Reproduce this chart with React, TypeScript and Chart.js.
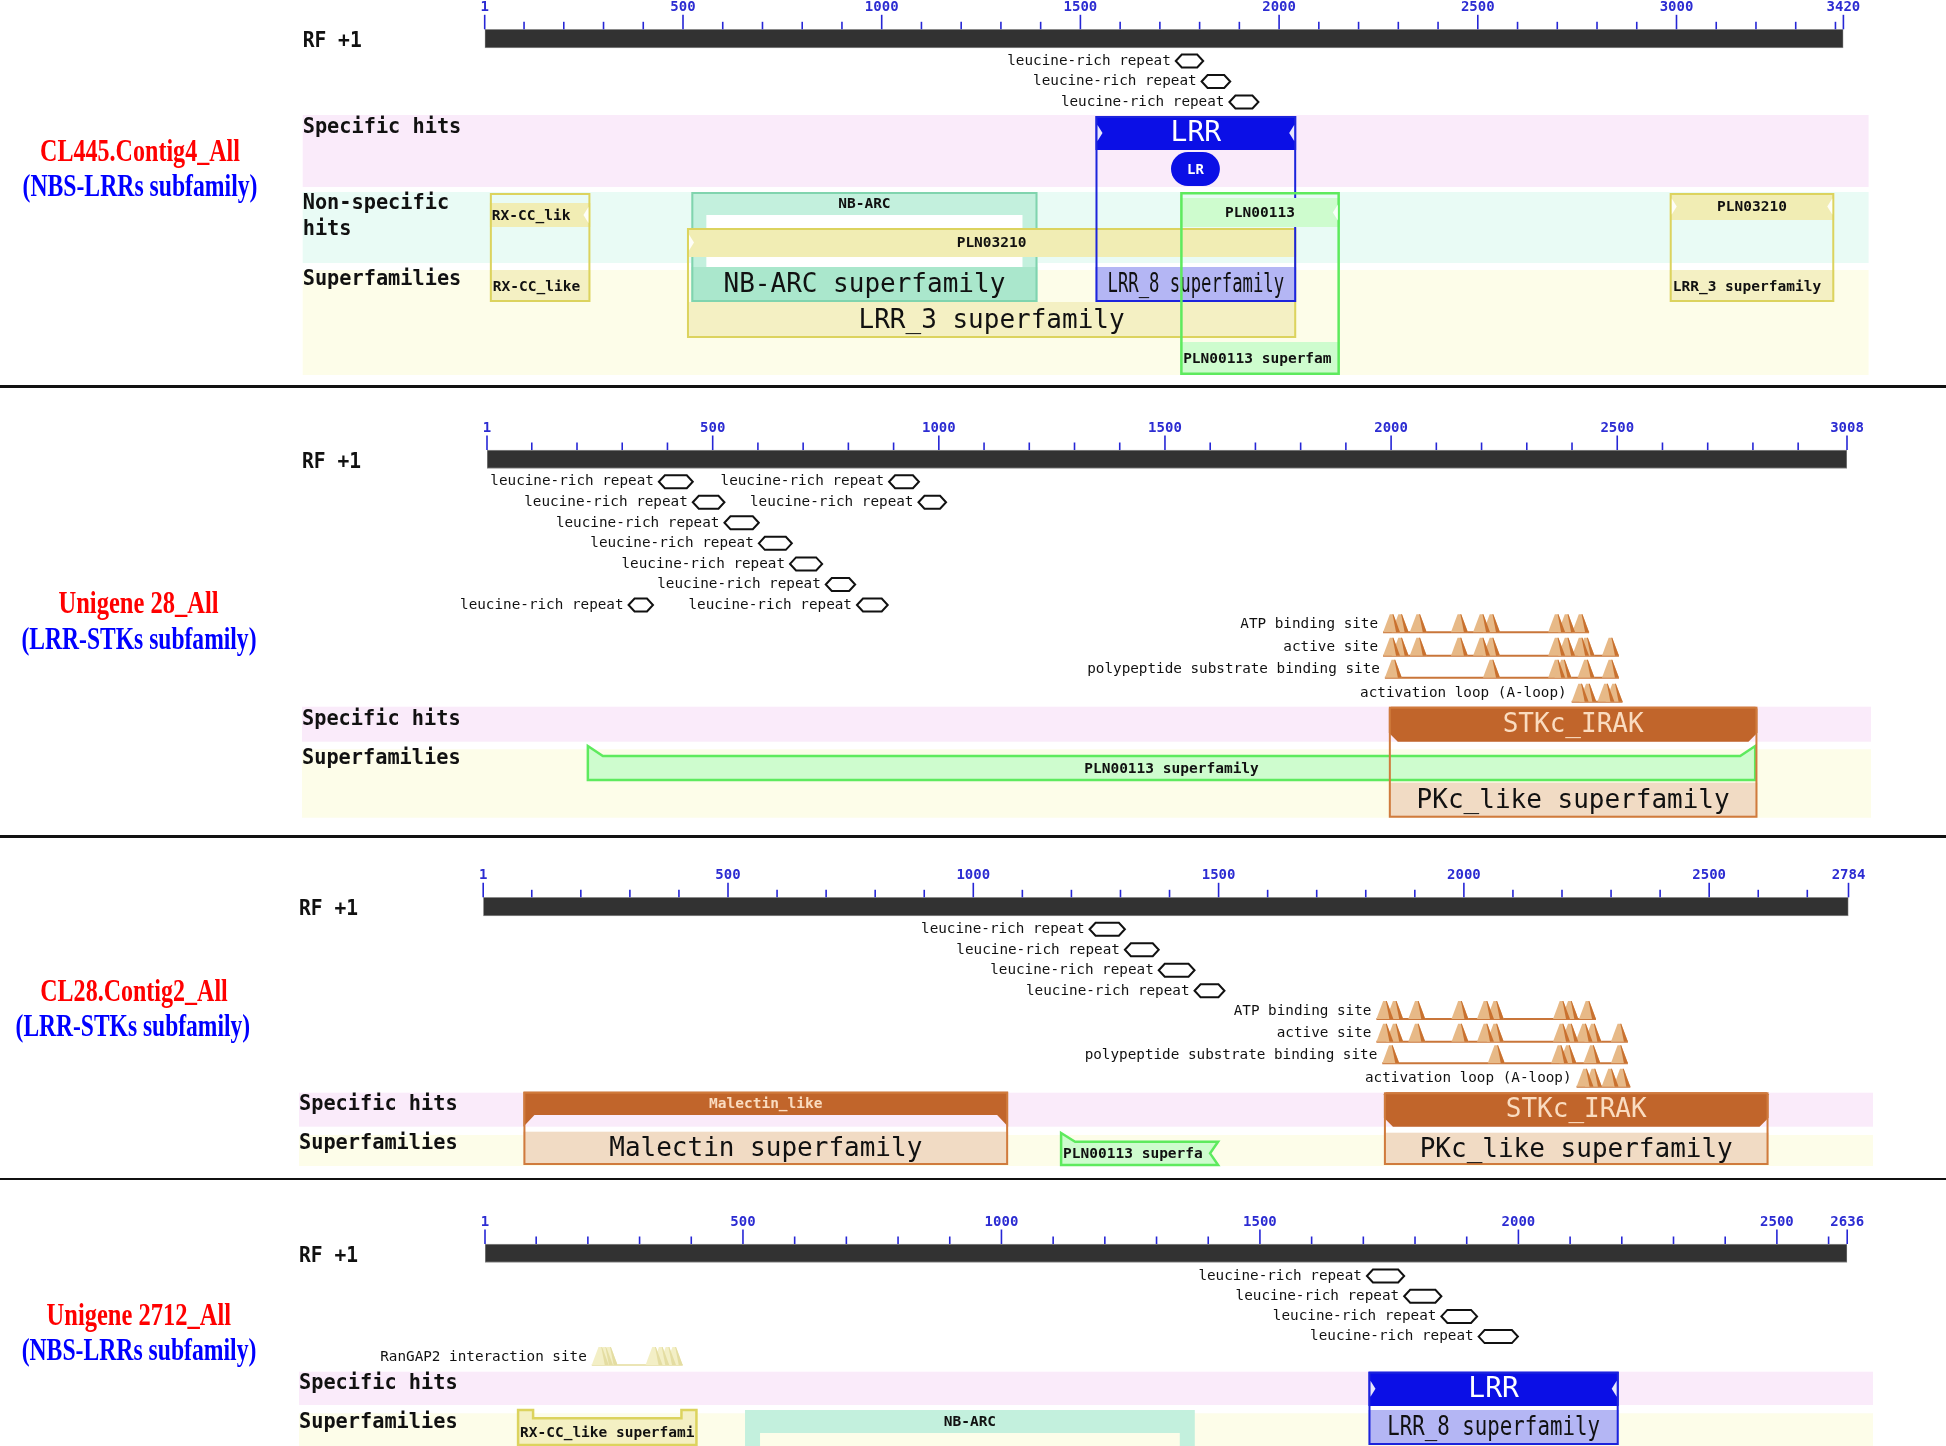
import React, { useEffect, useRef } from "react";
import { Chart, registerables } from "chart.js";

Chart.register(...registerables);

const PAGE_W = 1946;
const PAGE_H = 1446;
const MONO = '"DejaVu Sans Mono", "Liberation Mono", monospace';
const SERIF = '"Liberation Serif", "Times New Roman", serif';

/* ---------------- data ---------------- */
const SEQUENCE_NAMES = ["CL445.Contig4_All", "Unigene 28_All", "CL28.Contig2_All", "Unigene 2712_All"];
const SUBFAMILY_NAMES = ["(NBS-LRRs subfamily)", "(LRR-STKs subfamily)", "(LRR-STKs subfamily)", "(NBS-LRRs subfamily)"];
const SEQUENCE_LENGTHS = [3420, 3008, 2784, 2636];
const READING_FRAME = "RF +1";
const MINOR_TICK_STEP = 100;
const MAJOR_TICK_STEP = 500;
const TRACK_LABELS_NONSPEC = ["Specific hits", "Non-specific", "hits", "Superfamilies"];
const TRACK_LABELS = ["Specific hits", "Superfamilies"];

const REPEAT_LABEL = "leucine-rich repeat";
// leucine-rich repeat features: [start, end, row]
const REPEATS_1 = [[1740, 1809, 0], [1805, 1877, 1], [1875, 1948, 2]];
const REPEATS_2 = [
  [381, 456, 0], [890, 956, 0], [456, 526, 1], [955, 1016, 1], [526, 602, 2],
  [602, 675, 3], [671, 742, 4], [750, 815, 5], [314, 368, 6], [819, 887, 6],
];
const REPEATS_3 = [[1237, 1309, 0], [1309, 1378, 1], [1378, 1451, 2], [1451, 1512, 3]];
const REPEATS_4 = [[1707, 1779, 0], [1779, 1851, 1], [1851, 1920, 2], [1923, 1999, 3]];
const REPEATS = [REPEATS_1, REPEATS_2, REPEATS_3, REPEATS_4];

// conserved site positions
const KINASE_SITE_NAMES = ["ATP binding site", "active site", "polypeptide substrate binding site", "activation loop (A-loop)"];
const ATP_SITES_2 = [2001, 2020, 2060, 2151, 2200, 2222, 2366, 2388, 2419];
const ACTIVE_SITES_2 = [2001, 2020, 2060, 2151, 2200, 2222, 2366, 2388, 2419, 2431, 2485];
const SUBSTRATE_SITES_2 = [2005, 2222, 2366, 2380, 2431, 2485];
const ALOOP_SITES_2 = [2418, 2435, 2475, 2493];
const ATP_SITES_3 = [1839, 1859, 1904, 1992, 2044, 2064, 2199, 2216, 2252];
const ACTIVE_SITES_3 = [1839, 1859, 1904, 1992, 2044, 2064, 2199, 2216, 2245, 2263, 2317];
const SUBSTRATE_SITES_3 = [1851, 2066, 2195, 2212, 2261, 2317];
const ALOOP_SITES_3 = [2247, 2264, 2298, 2322];
const RANGAP_SITE_NAME = "RanGAP2 interaction site";
const RANGAP_SITES_4 = [224, 232, 241, 328, 341, 354, 367];

// domain hits
const HITS_1 = [
  { id: "rxcc", name: "RX-CC_lik", superfamily: "RX-CC_like", start: 14, end: 267 },
  { id: "nbarc", name: "NB-ARC", superfamily: "NB-ARC superfamily", start: 521, end: 1392 },
  { id: "pln03210", name: "PLN03210", superfamily: "LRR_3 superfamily", start: 510, end: 2043 },
  { id: "lrr", name: "LRR", superfamily: "LRR_8 superfamily", start: 1538, end: 2043 },
  { id: "lr", name: "LR", superfamily: "", start: 1728, end: 1851 },
  { id: "pln00113", name: "PLN00113", superfamily: "PLN00113 superfam", start: 1751, end: 2153 },
  { id: "pln03210b", name: "PLN03210", superfamily: "LRR_3 superfamily", start: 2983, end: 3397 },
];
const HITS_2 = [
  { id: "pln00113", name: "", superfamily: "PLN00113 superfamily", start: 224, end: 2805 },
  { id: "stkc", name: "STKc_IRAK", superfamily: "PKc_like superfamily", start: 1995, end: 2810 },
];
const HITS_3 = [
  { id: "malectin", name: "Malectin_like", superfamily: "Malectin superfamily", start: 83, end: 1071 },
  { id: "pln00113", name: "", superfamily: "PLN00113 superfa", start: 1179, end: 1499 },
  { id: "stkc", name: "STKc_IRAK", superfamily: "PKc_like superfamily", start: 1837, end: 2621 },
];
const HITS_4 = [
  { id: "rxcc", name: "", superfamily: "RX-CC_like superfami", start: 65, end: 410 },
  { id: "nbarc", name: "NB-ARC", superfamily: "", start: 504, end: 1374 },
  { id: "lrr", name: "LRR", superfamily: "LRR_8 superfamily", start: 1710, end: 2194 },
];
const HITS = [HITS_1, HITS_2, HITS_3, HITS_4];

/* ---------------- styles & layout ---------------- */
const SCHEMES: any = {
  blue: { border: "#1c24dc", header: "#0b0fe6", headerText: "#ffffff", footer: "#b4b6f4", footerText: "#111111" },
  teal: { border: "#80d4ae", header: "#c3f0dd", headerText: "#111111", footer: "#aae7cc", footerText: "#111111" },
  yellow: { border: "#dcd35e", header: "#f1edb4", headerText: "#111111", footer: "#f4f0c3", footerText: "#111111" },
  green: { border: "#5eea5e", header: "#cefcce", headerText: "#111111", footer: "#cefcce", footerText: "#111111" },
  orange: { border: "#d07b3d", header: "#c1652b", headerText: "#fadcc0", footer: "#f1dbc4", footerText: "#111111" },
};
const BAND_COLORS: any = { spec: "#faebfa", nonspec: "#e9fbf5", super: "#fdfde9" };
const SITE_STYLES: any = {
  kinase: { fill: "#e7b987", shade: "#c9712f", base: "#c9763a" },
  rangap: { fill: "#f3efc6", shade: "#e4dda2", base: "#ebe5b5" },
};
const TICK_COLOR = "#2626d6";
const RULER_T = 18.5;

const F_SMALL = `bold 14.5px ${MONO}`;
const F_BIG = `26px ${MONO}`;
const F_LRR = `28px ${MONO}`;
const F_ROW = `bold 21px ${MONO}`;
const F_FEATURE = `14.3px ${MONO}`;
const F_TICK = `bold 14px ${MONO}`;
const F_TITLE = `bold 31px ${SERIF}`;

const LAYOUTS: any[] = [
  {
    top: 0, height: 386, left: 484.7, right: 1843.4, labelX: 302.7, bandRight: 1868.6,
    rulerTop: 29.3, rfY: 42, repeatY0: 61, repeatDY: 20.5,
    bands: [["spec", 115, 187], ["nonspec", 192, 263], ["super", 270, 375]],
    rowLabels: TRACK_LABELS_NONSPEC, rowY: [128, 204, 230, 280],
    title: [140, 153, 200], sub: [140, 188.3, 235],
    sites: [],
    geom: {
      rxcc: { top: 193, bottom: 302, header: [203, 227], footer: [270, 302], scheme: "yellow", hFont: "small", hAlign: "left", fFont: "small", fAlign: "left", notch: "right" },
      nbarc: { top: 192, bottom: 302, header: [192, 215], footer: [267, 302], legs: 15, interior: "#ffffff", scheme: "teal", hFont: "small", fFont: "big" },
      pln03210: { top: 228, bottom: 338, header: [228, 257], footer: [302, 338], scheme: "yellow", hFont: "small", fFont: "big", notch: "left" },
      lrr: { top: 116, bottom: 302, header: [116, 150], footer: [267, 302], scheme: "blue", hFont: "lrr", fFont: "big", fFit: 0.88, notch: "both" },
      lr: { shape: "pill", top: 152, bottom: 186, scheme: "blue" },
      pln00113: { top: 192, bottom: 375, header: [198, 227], footer: [342, 375], scheme: "green", hFont: "small", fFont: "small", fAlign: "left", notch: "right", lw: 2.5 },
      pln03210b: { top: 193, bottom: 302, header: [193, 220], footer: [270, 302], scheme: "yellow", hFont: "small", fFont: "small", fAlign: "left", notch: "both" },
    },
  },
  {
    top: 386, height: 450, left: 487, right: 1847, labelX: 302, bandRight: 1871,
    rulerTop: 64, rfY: 76.7, repeatY0: 95.7, repeatDY: 20.55,
    bands: [["spec", 320.7, 355.7], ["super", 363.3, 431.7]],
    rowLabels: TRACK_LABELS, rowY: [333.3, 372.3],
    title: [138.5, 219, 160], sub: [139, 254.7, 235],
    sites: [
      { list: ATP_SITES_2, name: KINASE_SITE_NAMES[0], base: 246.3, style: "kinase" },
      { list: ACTIVE_SITES_2, name: KINASE_SITE_NAMES[1], base: 269.7, style: "kinase" },
      { list: SUBSTRATE_SITES_2, name: KINASE_SITE_NAMES[2], base: 291.7, style: "kinase" },
      { list: ALOOP_SITES_2, name: KINASE_SITE_NAMES[3], base: 315.7, style: "kinase" },
    ],
    geom: {
      pln00113: { shape: "tray", top: 360, bodyTop: 370, bottom: 394, slant: 15, scheme: "green" },
      stkc: { top: 320.7, bottom: 431.7, header: [320.7, 355.7], footer: [396.7, 431.7], scheme: "orange", hFont: "big", fFont: "big", bevel: true },
    },
  },
  {
    top: 836, height: 343, left: 483.2, right: 1848.5, labelX: 299, bandRight: 1873,
    rulerTop: 61.3, rfY: 74, repeatY0: 93.3, repeatDY: 20.5,
    bands: [["spec", 256.7, 290.7], ["super", 299, 330]],
    rowLabels: TRACK_LABELS, rowY: [269, 308],
    title: [134, 157.3, 187.5], sub: [132.8, 192.3, 234.5],
    sites: [
      { list: ATP_SITES_3, name: KINASE_SITE_NAMES[0], base: 183, style: "kinase" },
      { list: ACTIVE_SITES_3, name: KINASE_SITE_NAMES[1], base: 205.7, style: "kinase" },
      { list: SUBSTRATE_SITES_3, name: KINASE_SITE_NAMES[2], base: 227.3, style: "kinase" },
      { list: ALOOP_SITES_3, name: KINASE_SITE_NAMES[3], base: 250.7, style: "kinase" },
    ],
    geom: {
      malectin: { top: 255.7, bottom: 329, header: [255.7, 279], footer: [295.7, 329], wedges: [279, 290.7], scheme: "orange", hFont: "small", fFont: "big" },
      pln00113: { shape: "flag", top: 297, bodyTop: 305.7, bottom: 329, slant: 14, scheme: "green" },
      stkc: { top: 256.3, bottom: 329, header: [256.3, 290.7], footer: [296.7, 329], scheme: "orange", hFont: "big", fFont: "big", bevel: true },
    },
  },
  {
    top: 1179, height: 267, left: 485, right: 1847.2, labelX: 299, bandRight: 1873,
    rulerTop: 65, rfY: 77.7, repeatY0: 97, repeatDY: 20.2,
    bands: [["spec", 192.7, 226], ["super", 234.3, 267]],
    rowLabels: TRACK_LABELS, rowY: [205, 243.7],
    title: [138.8, 137.7, 184.4], sub: [139, 172.7, 234.7],
    sites: [{ list: RANGAP_SITES_4, name: RANGAP_SITE_NAME, base: 186, style: "rangap" }],
    geom: {
      rxcc: { shape: "u", top: 231, innerTop: 239.3, bottom: 266, notchW: 15, scheme: "yellow" },
      nbarc: { top: 231, bottom: 267, header: [231, 254], legs: 15, scheme: "teal", hFont: "small", noBorder: true },
      lrr: { top: 192.7, bottom: 266, header: [192.7, 227], footer: [231, 266], scheme: "blue", hFont: "lrr", fFont: "big", fFit: 0.85, notch: "both" },
    },
  },
];

/* ---------------- drawing helpers ---------------- */
function txt(ctx: any, s: string, x: number, y: number, font: string, color: string, align: any = "center", maxW?: number) {
  if (!s) return;
  ctx.font = font;
  ctx.fillStyle = color;
  ctx.textAlign = align;
  ctx.textBaseline = "middle";
  if (maxW) ctx.fillText(s, x, y, maxW);
  else ctx.fillText(s, x, y);
}

function poly(ctx: any, pts: number[][], fill?: string, stroke?: string, lw = 2) {
  ctx.beginPath();
  pts.forEach((p, i) => (i ? ctx.lineTo(p[0], p[1]) : ctx.moveTo(p[0], p[1])));
  ctx.closePath();
  if (fill) { ctx.fillStyle = fill; ctx.fill(); }
  if (stroke) { ctx.strokeStyle = stroke; ctx.lineWidth = lw; ctx.stroke(); }
}

function fontFor(k: string) {
  return k === "big" ? F_BIG : k === "lrr" ? F_LRR : F_SMALL;
}

function drawHit(ctx: any, X: any, Y: any, hit: any, g: any) {
  const S = SCHEMES[g.scheme];
  const x0 = X(hit.start), x1 = X(hit.end), w = x1 - x0, cx = (x0 + x1) / 2;
  const shape = g.shape || "frame";
  if (shape === "pill") {
    const t = Y(g.top), b = Y(g.bottom);
    ctx.beginPath();
    ctx.roundRect(x0, t, w, b - t, (b - t) / 2);
    ctx.fillStyle = S.header;
    ctx.fill();
    txt(ctx, hit.name, cx, (t + b) / 2 + 1, `bold 14px ${MONO}`, "#ffffff");
    return;
  }
  if (shape === "tray") {
    const t = Y(g.top), bt = Y(g.bodyTop), b = Y(g.bottom);
    poly(ctx, [[x0, t], [x0 + g.slant, bt], [x1 - g.slant, bt], [x1, t], [x1, b], [x0, b]], S.footer, S.border, 2.5);
    txt(ctx, hit.superfamily, cx, (bt + b) / 2 + 1, F_SMALL, S.footerText);
    return;
  }
  if (shape === "flag") {
    const t = Y(g.top), bt = Y(g.bodyTop), b = Y(g.bottom);
    poly(ctx, [[x0, t], [x0 + g.slant, bt], [x1, bt], [x1 - 8, (bt + b) / 2], [x1, b], [x0, b]], S.footer, S.border, 2.5);
    txt(ctx, hit.superfamily, x0 + 2, (bt + b) / 2 + 1, F_SMALL, S.footerText, "left", x1 - x0 - 8);
    return;
  }
  if (shape === "u") {
    const t = Y(g.top), it = Y(g.innerTop), b = Y(g.bottom), n = g.notchW;
    poly(ctx, [[x0, t], [x0 + n, t], [x0 + n, it], [x1 - n, it], [x1 - n, t], [x1, t], [x1, b], [x0, b]], S.footer, S.border, 2.5);
    txt(ctx, hit.superfamily, x0 + 2, (it + b) / 2 + 2, F_SMALL, S.footerText, "left", w - 4);
    return;
  }
  // frame
  const t = Y(g.top), b = Y(g.bottom);
  if (g.interior) { ctx.fillStyle = g.interior; ctx.fillRect(x0, t, w, b - t); }
  let ht = 0, hb = 0;
  if (g.header) {
    ht = Y(g.header[0]); hb = Y(g.header[1]);
    if (g.bevel) {
      poly(ctx, [[x0 + 2, ht], [x1 - 2, ht], [x1, ht + 2], [x1, hb - 9], [x1 - 9, hb], [x0 + 9, hb], [x0, hb - 9], [x0, ht + 2]], S.header);
    } else {
      ctx.fillStyle = S.header;
      ctx.fillRect(x0, ht, w, hb - ht);
    }
  }
  let ft = b, fb = b;
  if (g.footer) { ft = Y(g.footer[0]); fb = Y(g.footer[1]); }
  if (g.legs && g.header) {
    ctx.fillStyle = S.header;
    ctx.fillRect(x0, hb, g.legs, ft - hb);
    ctx.fillRect(x1 - g.legs, hb, g.legs, ft - hb);
  }
  if (g.footer) { ctx.fillStyle = S.footer; ctx.fillRect(x0, ft, w, fb - ft); }
  if (g.wedges) {
    const w0 = Y(g.wedges[0]), w1 = Y(g.wedges[1]);
    poly(ctx, [[x0, w0], [x0 + 11, w0], [x0, w1]], S.header);
    poly(ctx, [[x1, w0], [x1 - 11, w0], [x1, w1]], S.header);
  }
  if (!g.noBorder) {
    const lw = g.lw || 2;
    ctx.strokeStyle = S.border;
    ctx.lineWidth = lw;
    ctx.strokeRect(x0 + lw / 2, t + lw / 2, w - lw, b - t - lw);
  }
  if (g.header && g.notch) {
    const m = (ht + hb) / 2, d = Math.min(8, (hb - ht) / 2 - 3);
    const nc = "rgba(255,255,255,0.9)";
    if (g.notch === "left" || g.notch === "both") poly(ctx, [[x0 + 2, m - d], [x0 + 7, m], [x0 + 2, m + d]], nc);
    if (g.notch === "right" || g.notch === "both") poly(ctx, [[x1 - 2, m - d], [x1 - 7, m], [x1 - 2, m + d]], nc);
  }
  if (g.header && hit.name) {
    const left = g.hAlign === "left";
    txt(ctx, hit.name, left ? x0 + 2 : cx, (ht + hb) / 2 + 1, fontFor(g.hFont), S.headerText, left ? "left" : "center", w - 6);
  }
  if (g.footer && hit.superfamily) {
    const left = g.fAlign === "left";
    const mw = g.fFit ? w * g.fFit : w - 6;
    txt(ctx, hit.superfamily, left ? x0 + 3 : cx, (ft + fb) / 2 + 1, fontFor(g.fFont), S.footerText, left ? "left" : "center", mw);
  }
}

function drawSites(ctx: any, X: any, Y: any, s: any) {
  const st = SITE_STYLES[s.style];
  const b = Y(s.base), h = 18, hw = 8.5, tw = 1.8;
  const px = s.list.map((v: number) => X(v));
  const minX = Math.min(...px) - hw, maxX = Math.max(...px) + hw;
  ctx.strokeStyle = st.base;
  ctx.lineWidth = 2;
  ctx.beginPath();
  ctx.moveTo(minX, b);
  ctx.lineTo(maxX, b);
  ctx.stroke();
  px.forEach((p: number) => poly(ctx, [[p - hw, b], [p - tw, b - h], [p + tw, b - h], [p + hw, b]], st.fill));
  px.forEach((p: number) => poly(ctx, [[p + tw - 0.8, b - h], [p + tw, b - h], [p + hw, b], [p + hw - 4, b]], st.shade));
  txt(ctx, s.name, minX - 5, b - 8, F_FEATURE, "#111111", "right");
}

function drawRepeat(ctx: any, X: any, y: number, start: number, end: number) {
  const x0 = X(start), x1 = X(end), hh = 6.5, head = Math.min(6, (x1 - x0) / 3);
  poly(ctx, [[x0, y], [x0 + head, y - hh], [x1 - head, y - hh], [x1, y], [x1 - head, y + hh], [x0 + head, y + hh]], "#ffffff", "#111111", 2);
  txt(ctx, REPEAT_LABEL, x0 - 5, y, F_FEATURE, "#111111", "right");
}

function drawBands(chart: any, p: number) {
  const L = LAYOUTS[p];
  const ctx = chart.ctx;
  const Y = (v: number) => chart.scales.y.getPixelForValue(v);
  ctx.save();
  L.bands.forEach((bd: any) => {
    ctx.fillStyle = BAND_COLORS[bd[0]];
    ctx.fillRect(L.labelX, Y(bd[1]), L.bandRight - L.labelX, Y(bd[2]) - Y(bd[1]));
  });
  ctx.restore();
}

function drawPanel(chart: any, p: number) {
  const L = LAYOUTS[p];
  const ctx = chart.ctx;
  const X = (v: number) => chart.scales.x.getPixelForValue(v);
  const Y = (v: number) => chart.scales.y.getPixelForValue(v);
  const len = SEQUENCE_LENGTHS[p];
  ctx.save();

  // ruler ticks and labels
  const rt = Y(L.rulerTop);
  const endPx = X(len);
  const ticks: any[] = [{ v: 1, major: true, label: true }];
  for (let v = MINOR_TICK_STEP; v < len; v += MINOR_TICK_STEP) {
    if (endPx - X(v) < 5) continue;
    const major = v % MAJOR_TICK_STEP === 0;
    ticks.push({ v, major, label: major && endPx - X(v) > 36 });
  }
  ticks.push({ v: len, major: true, label: true });
  ctx.strokeStyle = TICK_COLOR;
  ctx.lineWidth = 1.6;
  ticks.forEach((t) => {
    const x = X(t.v);
    ctx.beginPath();
    ctx.moveTo(x, rt - (t.major ? 14.5 : 7.5));
    ctx.lineTo(x, rt);
    ctx.stroke();
    if (t.label) txt(ctx, String(t.v), x, rt - 22, F_TICK, "#2c2cd2");
  });

  // left titles
  txt(ctx, SEQUENCE_NAMES[p], L.title[0], Y(L.title[1]), F_TITLE, "#ff0000", "center", L.title[2]);
  txt(ctx, SUBFAMILY_NAMES[p], L.sub[0], Y(L.sub[1]), F_TITLE, "#0000ff", "center", L.sub[2]);

  // row labels
  txt(ctx, READING_FRAME, L.labelX, Y(L.rfY), F_ROW, "#111111", "left", 59);
  L.rowLabels.forEach((s: string, i: number) => txt(ctx, s, L.labelX, Y(L.rowY[i]), F_ROW, "#111111", "left", s.length * 12.2));

  // repeats
  REPEATS[p].forEach((r) => drawRepeat(ctx, X, Y(L.repeatY0 + r[2] * L.repeatDY), r[0], r[1]));

  // sites
  L.sites.forEach((s: any) => drawSites(ctx, X, Y, s));

  // domain hits
  HITS[p].forEach((h: any) => drawHit(ctx, X, Y, h, L.geom[h.id]));
  ctx.restore();
}

/* ---------------- components ---------------- */
function Panel({ index }: { index: number }) {
  const ref = useRef<HTMLCanvasElement>(null);
  const L = LAYOUTS[index];
  useEffect(() => {
    const len = SEQUENCE_LENGTHS[index];
    const chart = new Chart(ref.current as HTMLCanvasElement, {
      type: "bar",
      data: {
        datasets: [
          {
            label: READING_FRAME,
            data: [{ x: [1, len], y: L.rulerTop + RULER_T / 2 }] as any,
            backgroundColor: "#323232",
            borderColor: "#8a8a8a",
            borderWidth: 1,
            borderSkipped: false,
            barThickness: RULER_T,
          } as any,
        ],
      },
      options: {
        indexAxis: "y",
        animation: false,
        responsive: false,
        maintainAspectRatio: false,
        devicePixelRatio: 1,
        layout: { padding: { left: L.left, right: PAGE_W - L.right, top: 0, bottom: 0 } },
        scales: {
          x: { type: "linear", min: 1, max: len, display: false, offset: false, grace: 0 },
          y: { type: "linear", min: 0, max: L.height, reverse: true, display: false, offset: false, grace: 0 },
        },
        plugins: { legend: { display: false }, tooltip: { enabled: false } },
      } as any,
      plugins: [
        {
          id: "cdd" + index,
          beforeDatasetsDraw: (c: any) => drawBands(c, index),
          afterDatasetsDraw: (c: any) => drawPanel(c, index),
        },
      ],
    });
    return () => chart.destroy();
  }, [index]);
  return (
    <canvas
      ref={ref}
      width={PAGE_W}
      height={L.height}
      style={{ position: "absolute", left: 0, top: L.top, width: PAGE_W, height: L.height }}
    />
  );
}

const SEPARATORS = [[385, 3], [835, 2.5], [1178, 2]];

export default function App() {
  useEffect(() => {
    document.body.style.margin = "0";
    document.body.style.background = "#ffffff";
  }, []);
  return (
    <div style={{ position: "relative", width: PAGE_W, height: PAGE_H, background: "#ffffff", overflow: "hidden" }}>
      {LAYOUTS.map((_, i) => (
        <Panel key={i} index={i} />
      ))}
      {SEPARATORS.map((s, i) => (
        <div key={"s" + i} style={{ position: "absolute", left: 0, top: s[0], width: PAGE_W, height: s[1], background: "#111111" }} />
      ))}
    </div>
  );
}
